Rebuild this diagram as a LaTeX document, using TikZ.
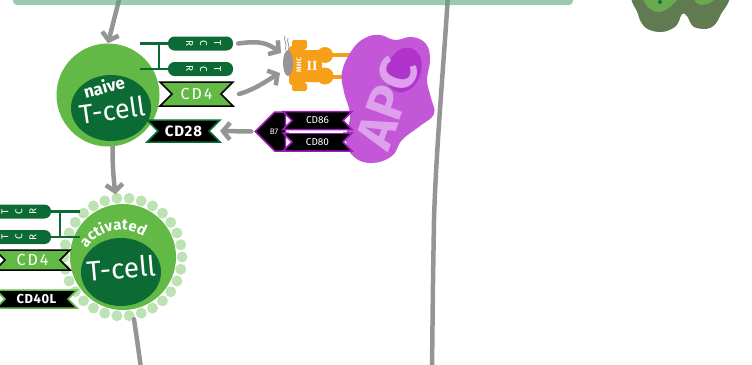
\documentclass[tikz,border=0pt]{standalone}
\usepackage{fontspec}
\setmainfont{Fira Sans}
\newfontfamily\numeralfont{Liberation Serif}
\usetikzlibrary{shapes.symbols,shapes.geometric,arrows.meta,decorations.text}

\definecolor{cellgreen}{HTML}{62B946}
\definecolor{coregreen}{HTML}{0C6B35}
\definecolor{dotgreen}{HTML}{BDE2B3}
\definecolor{bandgreen}{HTML}{5AA67A}
\definecolor{apcpurple}{HTML}{C457D8}
\definecolor{apcdark}{HTML}{B034CC}
\definecolor{apclight}{HTML}{DDA0EC}
\definecolor{bsevenpurple}{HTML}{9E1CB8}
\definecolor{mhcorange}{HTML}{F6A01A}
\definecolor{linkgray}{HTML}{959595}
\definecolor{olivegreen}{HTML}{607A52}
\definecolor{leafgreen}{HTML}{6AAA4F}

\begin{document}
\begin{tikzpicture}[x=1pt,y=-1pt]
\tikzstyle{arrow} = [-{Straight Barb[length=7pt,width=17pt]}, draw=linkgray, line width=4.5pt, line cap=round, line join=round]
\tikzstyle{link} = [draw=linkgray, line width=4.5pt, line cap=round]
\tikzstyle{cell} = [circle, fill=cellgreen, inner sep=0pt]
\tikzstyle{core} = [ellipse, fill=coregreen, inner sep=0pt]
\tikzstyle{celltext} = [text=white, font=\bfseries, inner sep=0pt]
\tikzstyle{tcr} = [rectangle, rounded corners=6.5pt, fill=coregreen, minimum height=14pt, inner sep=0pt]
\tikzstyle{tcrtext} = [text=white, font=\fontsize{10}{14}\selectfont, align=center, inner sep=0pt]
\tikzstyle{stem} = [draw=coregreen, line width=2.5pt]
\tikzstyle{ribbon} = [signal, signal from=west and east, signal to=nowhere, inner sep=0pt, text=white, line width=1.5pt]

\useasboundingbox (0,0) rectangle (752,364);

% divider
\draw[link] (448,-5) .. controls (444,60) and (436,150) .. (434,220) .. controls (433,280) .. (432,370);

% leaf blob in the corner
\fill[olivegreen] plot[smooth cycle, tension=0.6] coordinates {(638,-8) (638,14) (646,28) (662,32) (676,26) (682,14) (687,16) (694,27) (710,28) (720,16) (724,-8)};
\fill[leafgreen] plot[smooth cycle, tension=0.6] coordinates {(645,-6) (647,6) (658,12) (670,7) (678,-6)};
\fill[leafgreen] plot[smooth cycle, tension=0.6] coordinates {(694,-6) (698,4) (710,3) (717,-6)};
\fill[coregreen!80!teal] (660,2) circle (2);

% naive T cell
\node (NaiveCell) [cell, minimum size=103pt] at (108,95) {};
\node (NaiveCore) [core, minimum width=80pt, minimum height=66pt] at (111,108) {};
\node (NaiveText) [celltext, rotate=15, font=\bfseries\fontsize{17}{17}\selectfont] at (104,87) {naive};
\node (NaiveTcell) [celltext, rotate=8, font=\fontsize{27}{27}\selectfont] at (112,110) {T-cell};

\node (TCRa) [tcr, minimum width=65pt] at (200.5,43.5) {};
\node (TCRb) [tcr, minimum width=65pt] at (200.5,69) {};
\node [tcrtext, rotate=-90] at ([xshift=3pt]TCRa.center) {T\\C\\R};
\node [tcrtext, rotate=-90] at ([xshift=3pt]TCRb.center) {T\\C\\R};
\draw [stem] (TCRa.west) -- ++(-28,0);
\draw [stem] (TCRb.west) -- ++(-28,0);
\draw [stem] ([xshift=-9pt]TCRa.west) -- ([xshift=-9pt]TCRb.west);

\node (NaiveCDfour) [ribbon, fill=cellgreen, draw=black, minimum width=73pt, minimum height=24pt, font=\addfontfeatures{LetterSpace=12}\fontsize{16}{16}\selectfont] at (196.5,94) {CD4};
\node (NaiveCDtwoeight) [ribbon, fill=black, draw=coregreen, minimum width=73pt, minimum height=22pt, font=\bfseries\addfontfeatures{LetterSpace=6}\fontsize{15}{15}\selectfont] at (183.5,131) {CD28};

% antigen presenting cell
\draw [linkgray, line width=0.8pt] (285,36) .. controls (283,40) and (288,43) .. (285,50);
\draw [linkgray, line width=0.8pt] (288,38) .. controls (286,42) and (291,45) .. (288,51);
\draw [mhcorange, line width=3.5pt] (320,55) -- (358,55);
\draw [mhcorange, line width=3.5pt] (320,77) -- (358,77);
\fill [mhcorange, rounded corners=3pt] (289,46) rectangle (305,85);
\fill [mhcorange, rounded corners=2pt] (292,40) rectangle (307,49);
\fill [mhcorange, rounded corners=2pt] (292,83) rectangle (307,91);
\fill [mhcorange, rounded corners=3pt] (300,50) rectangle (322,82);
\fill [mhcorange] (325,55) circle (8);
\fill [mhcorange] (325,76) circle (8.5);
\node (MHCText) [text=white, rotate=90, font=\bfseries\fontsize{7}{7}\selectfont, inner sep=0pt] at (299,65) {MHC};
\node (MHCClass) [text=white, font=\numeralfont\bfseries\fontsize{14}{14}\selectfont, inner sep=0pt] at (312,66) {II};
\node (Peptide) [ellipse, fill=linkgray, minimum width=10pt, minimum height=26pt, inner sep=0pt] at (288,63) {};

\fill[apcpurple] plot[smooth cycle, tension=0.7] coordinates {(352,50) (365,38) (380,35) (395,40) (412,37) (426,44) (430,60) (427,80) (431,98) (434,114) (420,126) (402,140) (392,156) (372,163) (354,157) (346,140) (350,115) (344,92) (342,72)};
\fill[apcdark, rotate around={-20:(404,70)}] (404,70) ellipse [x radius=17, y radius=23];
\node (APCText) [text=apclight, rotate=70, font=\bfseries\fontsize{52}{52}\selectfont, inner sep=0pt] at (387,103) {APC};

\node (B7Tip) [signal, signal to=west, fill=black, draw=bsevenpurple, line width=1.5pt, minimum width=30pt, minimum height=39pt, inner sep=0pt] at (280,131.5) {};
\node (CDeightsix) [ribbon, fill=black, draw=bsevenpurple, minimum width=69pt, minimum height=18pt, font=\fontsize{10}{10}\selectfont] at (317.5,120.5) {CD86};
\node (CDeightzero) [ribbon, fill=black, draw=bsevenpurple, minimum width=69pt, minimum height=18pt, font=\fontsize{10}{10}\selectfont] at (317.5,142) {CD80};
\draw [white, line width=2pt] ([xshift=-29pt,yshift=-1.7pt]CDeightsix.south) -- ([xshift=25pt,yshift=-1.7pt]CDeightsix.south);
\node (B7Text) [text=white, font=\fontsize{8}{8}\selectfont, inner sep=0pt] at ([xshift=-6pt]B7Tip.center) {B7};

% activated T cell
\foreach \a in {0,12,...,348}
  \fill[dotgreen] (123,257) ++(\a:59) circle (5.5);
\node (ActivatedRing) [circle, minimum size=126pt, inner sep=0pt] at (123,257) {};
\node (ActivatedCell) [cell, minimum size=106pt] at (123,257) {};
\node (ActivatedCore) [core, minimum width=80pt, minimum height=68pt] at (121,272) {};
\node (ActivatedTcell) [celltext, rotate=5, font=\fontsize{28}{28}\selectfont] at (121,268) {T-cell};
\path [decorate, decoration={text along path, text align=center, text={|\color{white}\bfseries\fontsize{15}{15}\selectfont|activated}}]
  ([shift={(-158:42)}]ActivatedCore.center) arc [start angle=-158, end angle=-45, radius=42];

\node (TCRc) [tcr, minimum width=62pt] at (20,211.5) {};
\node (TCRd) [tcr, minimum width=62pt] at (20,237) {};
\node [tcrtext, rotate=90] at ([xshift=-1pt]TCRc.center) {T\\C\\R};
\node [tcrtext, rotate=90] at ([xshift=-1pt]TCRd.center) {T\\C\\R};
\draw [stem] (TCRc.east) -- ++(29,0);
\draw [stem] (TCRd.east) -- ++(29,0);
\draw [stem] ([xshift=9pt]TCRc.east) -- ([xshift=9pt]TCRd.east);

\node (ActivatedCDfour) [ribbon, fill=cellgreen, draw=black, minimum width=75pt, minimum height=20pt, font=\addfontfeatures{LetterSpace=12}\fontsize{16}{16}\selectfont] at (32.5,260) {CD4};
\node (CDfourzeroL) [ribbon, fill=black, draw=cellgreen, minimum width=81pt, minimum height=18pt, font=\bfseries\addfontfeatures{LetterSpace=4}\fontsize{13}{13}\selectfont] at (36.5,299) {CD40L};

% connectors
\coordinate (FromAbove) at (120,-4);
\coordinate (Onward) at (141,368);
\draw [arrow] (FromAbove) -- (NaiveCell.north);
\draw [arrow] (NaiveCell.-85) .. controls +(0,20) and +(-2,-20) .. (ActivatedRing.97);
\draw [link] (ActivatedRing.-80) .. controls +(3,20) .. (Onward);
\draw [arrow] ([xshift=5pt]TCRa.east) .. controls +(22,-3) and +(-14,-10) .. ([shift={(-7,-10)}]Peptide.center);
\draw [arrow] ([xshift=17pt]NaiveCDfour.east) .. controls +(15,-4) and +(-12,7) .. ([shift={(-8,10)}]Peptide.center);
\draw [arrow] ([xshift=-3pt]B7Tip.west) -- ([xshift=10pt]NaiveCDtwoeight.east);

% top band
\fill[bandgreen, opacity=0.6, rounded corners=4pt] (13,-10) rectangle (573,5);
\end{tikzpicture}
\end{document}
